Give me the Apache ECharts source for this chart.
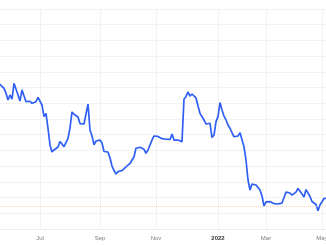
<!DOCTYPE html>
<html>
<head>
<meta charset="utf-8">
<script src="https://cdn.jsdelivr.net/npm/echarts@6/dist/echarts.min.js"></script>
<style>
html,body{margin:0;padding:0;background:#fff;}
#chart{width:326px;height:245px;}
</style>
</head>
<body>
<div id="chart"></div>
<script>
// Price series (arbitrary units, one point per step)
const values = [
  9.21, 9.16, 8.95, 8.65, 8.21, 8.53, 8.27, 9.27, 9.23, 8.53,
  8.15, 8.85, 8.85, 8.10, 8.13, 8.13, 8.00, 8.02, 8.10, 8.37,
  8.32, 7.89, 7.15, 7.36, 6.41, 5.35, 4.90, 5.03, 5.09, 5.22,
  5.56, 5.41, 5.24, 5.35, 5.77, 6.43, 7.45, 7.30, 7.24, 7.13,
  6.71, 6.65, 6.68, 6.62, 7.95, 6.30, 5.92, 5.35, 5.60, 5.54,
  5.66, 5.47, 4.93, 4.87, 4.90, 4.52, 4.01, 3.72, 3.50, 3.65,
  3.63, 3.72, 3.65, 3.95, 3.96, 4.17, 4.28, 4.60, 5.14, 5.25,
  5.20, 5.14, 5.07, 4.82, 5.03, 5.14, 5.66, 5.92, 5.95, 5.89,
  5.77, 5.75, 5.75, 5.71, 5.68, 5.70, 6.05, 5.66, 5.62, 5.66,
  5.58, 5.56, 8.27, 8.42, 8.72, 8.46, 8.59, 8.64, 8.34, 7.83,
  7.36, 7.25, 6.94, 6.68, 6.68, 6.73, 5.82, 5.98, 6.83, 7.15,
  8.05, 7.57, 7.19, 6.94, 6.62, 6.41, 6.13, 5.87, 5.79, 5.92,
  6.13, 6.19, 5.24, 4.39, 3.12, 2.48, 2.86, 2.86, 2.80, 2.90,
  2.48, 2.10, 1.46, 1.72, 1.74, 1.74, 1.65, 1.62, 1.69, 1.59,
  1.56, 1.65, 1.74, 2.35, 2.42, 2.29, 2.16, 2.26, 2.35, 2.58,
  2.64, 2.23, 2.04, 2.51, 2.45, 2.07, 1.75, 1.74, 1.56, 1.16,
  1.53, 1.59, 1.94, 1.95
];
// x-axis tick labels and the point index where each falls
const tickLabels = ['Jul', 'Sep', 'Nov', '2022', 'Mar', 'May'];
const tickIndex  = [20, 50, 78, 109, 133, 161];
// reference level line
const refLevel = 1.46;

const categories = values.map((_, i) => String(i));
const isTick = (i) => tickIndex.indexOf(i) >= 0;

const chart = echarts.init(document.getElementById('chart'), null, {renderer: 'canvas'});
chart.setOption({
  animation: false,
  backgroundColor: '#ffffff',
  grid: {left: 0, right: 0, top: 9, bottom: 16, containLabel: false, outerBoundsMode: 'none'},
  xAxis: {
    type: 'category',
    data: categories,
    boundaryGap: false,
    axisLine: {show: true, lineStyle: {color: '#eceef2', width: 1}},
    axisTick: {show: false},
    axisLabel: {
      interval: (i) => isTick(i),
      hideOverlap: false,
      margin: 6,
      fontSize: 6,
      fontFamily: 'Liberation Sans, Arial, sans-serif',
      color: '#7a7d86',
      formatter: (v) => {
        const k = tickIndex.indexOf(Number(v));
        if (k < 0) return '';
        const t = tickLabels[k];
        return /^\d{4}$/.test(t) ? '{b|' + t + '}' : t;
      },
      rich: {b: {fontWeight: 'bold', color: '#333', fontSize: 6, fontFamily: 'Liberation Sans, Arial, sans-serif'}}
    },
    splitLine: {show: true, interval: (i) => isTick(i), lineStyle: {color: '#f1f2f5', width: 1}}
  },
  yAxis: {
    type: 'value',
    min: 0, max: 14, interval: 1,
    axisLabel: {show: false},
    axisLine: {show: false},
    axisTick: {show: false},
    splitLine: {show: true, lineStyle: {color: '#f1f2f5', width: 1}}
  },
  series: [{
    type: 'line',
    data: values,
    showSymbol: false,
    smooth: false,
    lineStyle: {color: '#2f5ff5', width: 1.7},
    markLine: {
      silent: true,
      symbol: ['none', 'none'],
      label: {show: false},
      lineStyle: {color: '#f9c690', width: 1, type: 'dotted', opacity: 0.7},
      data: [{yAxis: refLevel}]
    }
  }]
});
</script>
</body>
</html>
